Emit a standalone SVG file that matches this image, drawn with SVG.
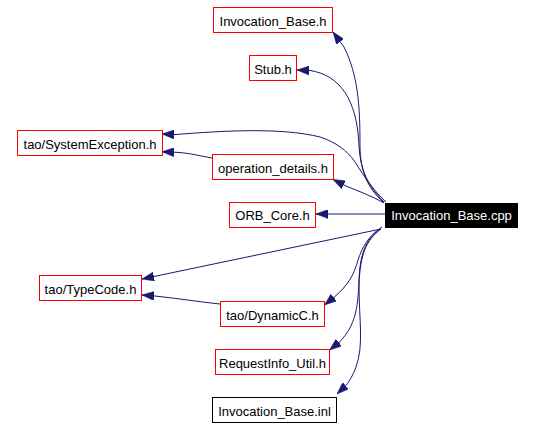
<svg xmlns="http://www.w3.org/2000/svg" width="536" height="427" viewBox="0 0 536 427">
<style>
.n rect{fill:#fff;stroke:#ff0000;stroke-width:1}
.n.b rect{stroke:#000}
.n.m rect{fill:#000;stroke:#000}
.n text{font-family:"Liberation Sans",Arial,sans-serif;font-size:13px;fill:#000;text-anchor:middle}
.n.m text{fill:#fff}
.e path{fill:none;stroke:#191970;stroke-width:1;marker-end:url(#ah)}
</style>
<defs>
<marker id="ah" viewBox="0 0 12 9" refX="12" refY="4.5" markerWidth="12" markerHeight="9" markerUnits="userSpaceOnUse" orient="auto">
<path d="M0,0 L12,4.5 L0,9 z" fill="#191970" stroke="#191970" stroke-width="0.5"/>
</marker>
</defs>
<rect width="536" height="427" fill="#fff"/>
<g id="edges" class="e">
<path d="M383,202 C368,188 360,172 360,145 C360,105 358,75 344,47 L333,32"/>
<path d="M384,202 C368,186 360,170 359,145 C357,100 340,75 310,70.5 L297,70"/>
<path d="M386,202 C375,192 365,178 355,162 C347,150 335,142 320,137 C280,127 220,131 176,134.5 L162,134"/>
<path d="M212,158 C200,156 190,153 176,152.3 L162,151.7"/>
<path d="M384,203 C372,196 358,191 346,186 L333,179.5"/>
<path d="M385,214 L316,214"/>
<path d="M381,229 L142,279"/>
<path d="M220,304 C200,302 175,298 155,296 L142,295"/>
<path d="M382,227 C368,236 362,248 358,260 C354,275 348,285 335,296.5 L324.5,305"/>
<path d="M380,229 C365,240 360,255 359,280 C358,310 355,325 340,341.7 L329.5,350"/>
<path d="M381,229 C366,240 360,255 359,285 C359,320 364,345 356,367 C353,375 350,380 346.5,385 L337,394"/>
</g>
<g id="n_invocation_base_h" class="n"><rect x="213.5" y="7.5" width="119" height="25"/><text x="273" y="26">Invocation_Base.h</text></g>
<g id="n_stub_h" class="n"><rect x="249.5" y="55.5" width="47" height="25"/><text x="273" y="74">Stub.h</text></g>
<g id="n_systemexception_h" class="n"><rect x="17.5" y="130.5" width="145" height="25"/><text x="90" y="149">tao/SystemException.h</text></g>
<g id="n_operation_details_h" class="n"><rect x="212.5" y="154.5" width="121" height="25"/><text x="273" y="173">operation_details.h</text></g>
<g id="n_orb_core_h" class="n"><rect x="229.5" y="202.5" width="86" height="25"/><text x="272.5" y="219.5">ORB_Core.h</text></g>
<g id="n_invocation_base_cpp" class="n m"><rect x="385.5" y="203.5" width="132" height="24"/><text x="451.5" y="219.5">Invocation_Base.cpp</text></g>
<g id="n_typecode_h" class="n"><rect x="39.5" y="275.5" width="102" height="25"/><text x="90.5" y="294">tao/TypeCode.h</text></g>
<g id="n_dynamicc_h" class="n"><rect x="220.5" y="301.5" width="104" height="25"/><text x="272.5" y="320">tao/DynamicC.h</text></g>
<g id="n_requestinfo_util_h" class="n"><rect x="215.5" y="349.5" width="114" height="25"/><text x="272.5" y="368">RequestInfo_Util.h</text></g>
<g id="n_invocation_base_inl" class="n b"><rect x="212.5" y="397.5" width="124" height="25"/><text x="274.5" y="416">Invocation_Base.inl</text></g>
</svg>
